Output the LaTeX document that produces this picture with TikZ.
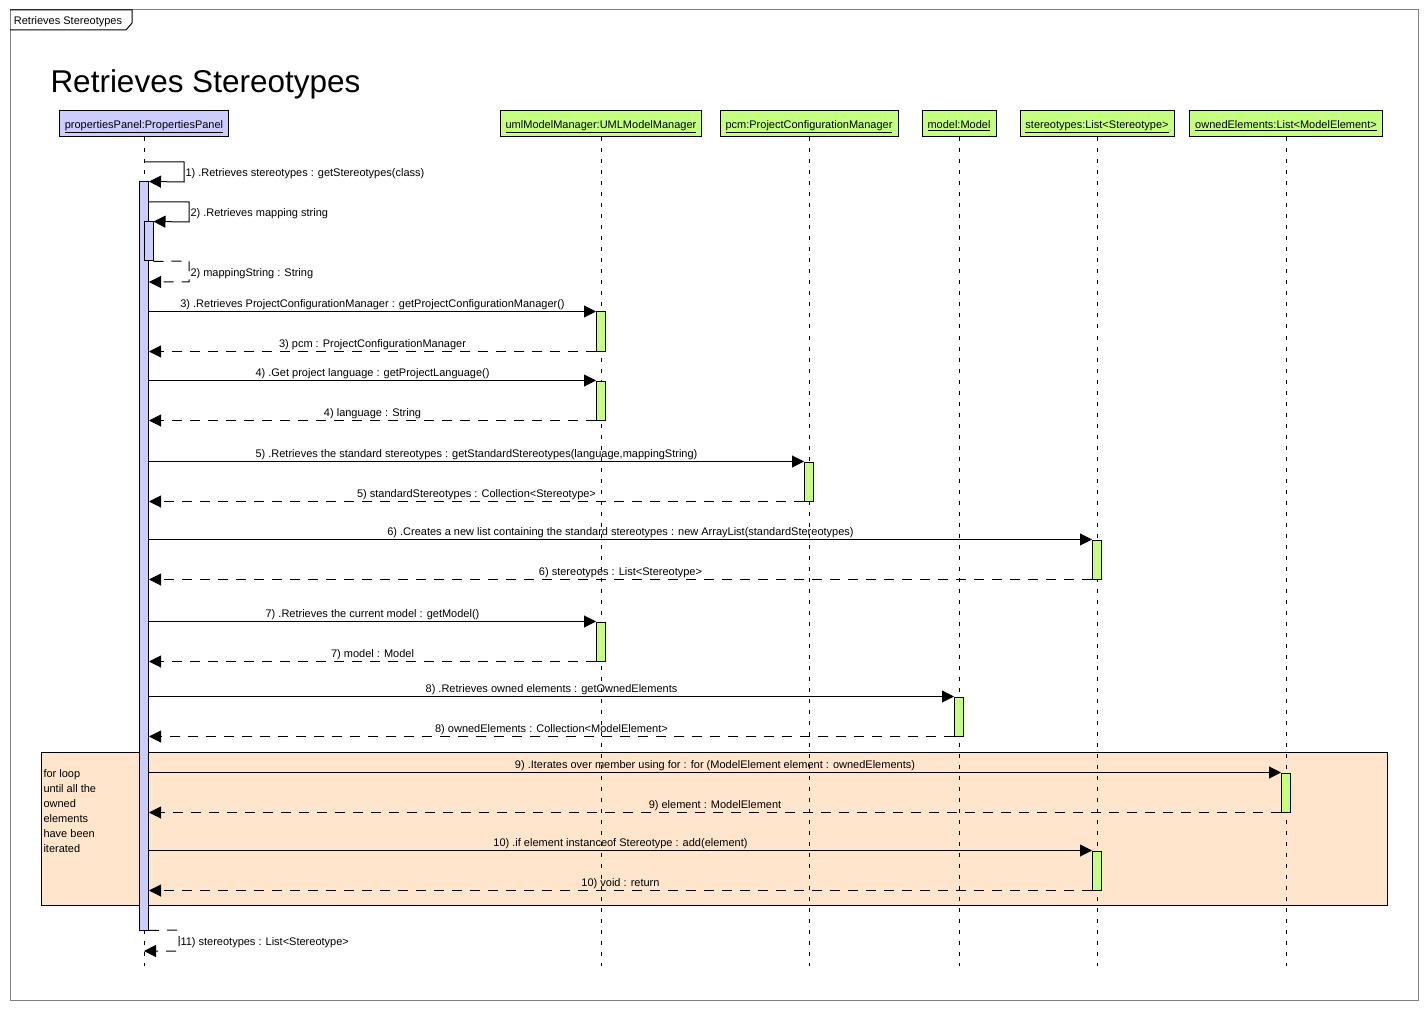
\documentclass[tikz,border=0pt]{standalone}
\usepackage{fontspec}
\setmainfont{Liberation Sans}
\usetikzlibrary{arrows.meta}
\definecolor{panelblue}{RGB}{204,204,255}
\definecolor{objgreen}{RGB}{196,255,128}
\definecolor{looppeach}{RGB}{255,229,204}
\definecolor{framegray}{RGB}{128,128,128}

\begin{document}
\begin{tikzpicture}[x=1pt, y=-1pt, line width=1pt,
  head/.style={draw=black, rectangle, minimum height=26, inner sep=0, text height=10pt, text depth=1pt, font=\fontsize{11}{13}\selectfont},
  act/.style={draw=black, rectangle, minimum width=9, inner sep=0},
  life/.style={dash pattern=on 4pt off 7pt},
  msg/.style={-{Triangle[length=12pt,width=12pt]}},
  ret/.style={msg, dash pattern=on 10pt off 8pt},
  lbl/.style={font=\fontsize{11}{13}\selectfont, text height=8pt, text depth=2.5pt, inner sep=1pt},
  side/.style={lbl, right, yshift=-2pt}]
\useasboundingbox (0,0) rectangle (1428,1011);

\draw[framegray] (10,10) rectangle (1418,1000);
\draw (10,10) -- (132,10) -- (132,23) -- (126,30) -- (10,30);
\node[lbl] (tab) at (68,22) {Retrieves Stereotypes};
\node[anchor=base west, inner sep=0, font=\fontsize{31.5}{36}\selectfont] (title) at (50,93) {Retrieves Stereotypes};

\node[draw=black, fill=looppeach, minimum width=1346, minimum height=153, inner sep=0] (loop) at (714,828.5) {};
\node[anchor=north west, align=left, inner sep=0, font=\fontsize{11}{15}\selectfont] (looptxt) at (43,769) {for loop\\until all the\\owned\\elements\\have been\\iterated};

\node[head, fill=panelblue, minimum width=169] (pp) at (144,124) {\underline{propertiesPanel:PropertiesPanel}};
\node[head, fill=objgreen, minimum width=201] (uml) at (601,124) {\underline{umlModelManager:UMLModelManager}};
\node[head, fill=objgreen, minimum width=178] (pcm) at (809,124) {\underline{pcm:ProjectConfigurationManager}};
\node[head, fill=objgreen, minimum width=74] (mdl) at (959,124) {\underline{model:Model}};
\node[head, fill=objgreen, minimum width=154] (st) at (1097,124) {\underline{stereotypes:List<Stereotype>}};
\node[head, fill=objgreen, minimum width=193] (oe) at (1286,124) {\underline{ownedElements:List<ModelElement>}};

\foreach \o in {pp,uml,pcm,mdl,st,oe}
  \draw[life] (\o.south) -- ([yshift=-828pt]\o.south);

\node[act, fill=panelblue, minimum height=748] (ppact) at (144,556) {};
\node[act, fill=panelblue, minimum height=39] (ppact2) at (148.5,241.5) {};
\node[act, fill=objgreen, minimum height=39] (umlact1) at (601,331.5) {};
\node[act, fill=objgreen, minimum height=39] (umlact2) at (601,400.5) {};
\node[act, fill=objgreen, minimum height=39] (umlact3) at (601,641.5) {};
\node[act, fill=objgreen, minimum height=39] (pcmact) at (809,481.5) {};
\node[act, fill=objgreen, minimum height=39] (stact1) at (1097,559.5) {};
\node[act, fill=objgreen, minimum height=39] (stact2) at (1097,870.5) {};
\node[act, fill=objgreen, minimum height=39] (mdlact) at (959,716.5) {};
\node[act, fill=objgreen, minimum height=39] (oeact) at (1286,792.5) {};

\coordinate (s1a) at (144,162);
\coordinate (s1b) at (184,162);
\coordinate (s1c) at (184,182);
\coordinate (s2b) at (189,202);
\coordinate (s2c) at (189,222);
\coordinate (r2b) at (189,261);
\coordinate (r2c) at (189,282);
\coordinate (r11b) at (179,930);
\coordinate (r11c) at (179,951);
\coordinate (r11d) at (144,951);

\draw[msg] (s1a) -- (s1b) -- node[side] {1) .Retrieves stereotypes : getStereotypes(class)} (s1c) -- (ppact.north east);
\draw[msg] (ppact.east |- s2b) -- (s2b) -- node[side] {2) .Retrieves mapping string} (s2c) -- (ppact2.north east);
\draw[ret] (ppact2.south east) -- (r2b) -- node[side] {2) mappingString : String} (r2c) -- (ppact.east |- r2c);

\draw[msg] (ppact.east |- umlact1.north) -- node[lbl, above] {3) .Retrieves ProjectConfigurationManager : getProjectConfigurationManager()} (umlact1.north west);
\draw[ret] (umlact1.south west) -- node[lbl, above] {3) pcm : ProjectConfigurationManager} (ppact.east |- umlact1.south);
\draw[msg] (ppact.east |- umlact2.north) -- node[lbl, above] {4) .Get project language : getProjectLanguage()} (umlact2.north west);
\draw[ret] (umlact2.south west) -- node[lbl, above] {4) language : String} (ppact.east |- umlact2.south);
\draw[msg] (ppact.east |- pcmact.north) -- node[lbl, above] {5) .Retrieves the standard stereotypes : getStandardStereotypes(language,mappingString)} (pcmact.north west);
\draw[ret] (pcmact.south west) -- node[lbl, above] {5) standardStereotypes : Collection<Stereotype>} (ppact.east |- pcmact.south);
\draw[msg] (ppact.east |- stact1.north) -- node[lbl, above] {6) .Creates a new list containing the standard stereotypes : new ArrayList(standardStereotypes)} (stact1.north west);
\draw[ret] (stact1.south west) -- node[lbl, above] {6) stereotypes : List<Stereotype>} (ppact.east |- stact1.south);
\draw[msg] (ppact.east |- umlact3.north) -- node[lbl, above] {7) .Retrieves the current model : getModel()} (umlact3.north west);
\draw[ret] (umlact3.south west) -- node[lbl, above] {7) model : Model} (ppact.east |- umlact3.south);
\draw[msg] (ppact.east |- mdlact.north) -- node[lbl, above] {8) .Retrieves owned elements : getOwnedElements} (mdlact.north west);
\draw[ret] (mdlact.south west) -- node[lbl, above] {8) ownedElements : Collection<ModelElement>} (ppact.east |- mdlact.south);
\draw[msg] (ppact.east |- oeact.north) -- node[lbl, above] {9) .Iterates over member using for : for (ModelElement element : ownedElements)} (oeact.north west);
\draw[ret] (oeact.south west) -- node[lbl, above] {9) element : ModelElement} (ppact.east |- oeact.south);
\draw[msg] (ppact.east |- stact2.north) -- node[lbl, above] {10) .if element instanceof Stereotype : add(element)} (stact2.north west);
\draw[ret] (stact2.south west) -- node[lbl, above] {10) void : return} (ppact.east |- stact2.south);

\draw[ret] (ppact.south east) -- (r11b) -- node[side] {11) stereotypes : List<Stereotype>} (r11c) -- (r11d);
\end{tikzpicture}
\end{document}
